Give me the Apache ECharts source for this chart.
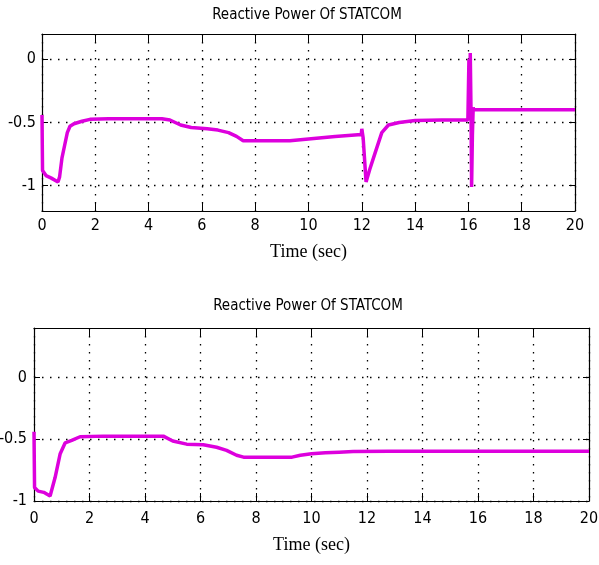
<!DOCTYPE html>
<html>
<head>
<meta charset="utf-8">
<script src="https://cdn.jsdelivr.net/npm/echarts@6/dist/echarts.min.js"></script>
<style>
  html,body{margin:0;padding:0;background:#fff;}
  #chart{width:599px;height:565px;}
</style>
</head>
<body>
<div id="chart"></div>
<script>
// top plot: STATCOM reactive power (with disturbances at 12 s and 16 s)
var timeTop=[0,0.02,0.15,0.35,0.6,0.66,0.75,0.85,0.95,1.05,1.2,1.5,1.8,2.5,4.5,4.8,5.2,5.6,6.2,6.6,7.0,7.3,7.55,8.5,9.3,10,11,11.98,12.0,12.05,12.16,12.3,12.5,12.75,13.0,13.4,14,15,15.98,16.02,16.05,16.07,16.1,16.12,16.15,16.18,16.2,17,20];
var powerTop=[-0.44,-0.88,-0.92,-0.94,-0.97,-0.93,-0.78,-0.68,-0.58,-0.53,-0.51,-0.49,-0.475,-0.47,-0.47,-0.48,-0.52,-0.54,-0.55,-0.56,-0.58,-0.61,-0.645,-0.645,-0.645,-0.63,-0.61,-0.595,-0.55,-0.62,-0.97,-0.87,-0.74,-0.58,-0.52,-0.50,-0.485,-0.48,-0.48,0.0,-0.3,0.05,-0.45,-1.01,-0.6,-0.38,-0.40,-0.40,-0.40];

// bottom plot
var timeBottom=[0,0.02,0.15,0.35,0.58,0.64,0.76,0.94,1.12,1.36,1.66,2.5,4.66,5.0,5.5,6.1,6.58,6.94,7.3,7.55,8.5,9.3,9.6,10,10.5,11,11.5,12.8,20];
var powerBottom=[-0.44,-0.89,-0.92,-0.93,-0.96,-0.95,-0.81,-0.62,-0.53,-0.51,-0.48,-0.475,-0.475,-0.515,-0.54,-0.545,-0.565,-0.59,-0.63,-0.645,-0.645,-0.645,-0.63,-0.618,-0.61,-0.605,-0.60,-0.597,-0.597];

var yTicks=[-1,-0.5,0];
var titleText='Reactive Power Of STATCOM';
var xName='Time (sec)';

var narrow='"Liberation Sans Narrow","DejaVu Sans Condensed",Arial,sans-serif';
var lineColor='#dd00dd';

function pairs(xs,ys){
    return xs.map(function(x,i){return [x,ys[i]];});
}

var dotted={show:true,lineStyle:{color:'#000',width:1.3,type:[1.5,6.5]}};
var axisLine={show:true,onZero:false,lineStyle:{color:'#000',width:1.2}};

function xAxes(gridIndex,labelMargin,nameGap){
    return [{
        gridIndex:gridIndex,type:'value',min:0,max:20,interval:2,position:'bottom',
        axisLine:axisLine,
        axisTick:{inside:true,length:8,lineStyle:{color:'#000'}},
        splitLine:dotted,
        axisLabel:{color:'#000',fontSize:16,fontFamily:narrow,margin:labelMargin},
        name:xName,nameLocation:'middle',nameGap:nameGap,
        nameTextStyle:{color:'#000',fontFamily:'"Liberation Serif","Times New Roman",serif',fontSize:18}
    },{
        gridIndex:gridIndex,type:'value',min:0,max:20,interval:2,position:'top',
        axisLine:axisLine,
        axisTick:{inside:true,length:8,lineStyle:{color:'#000'}},
        splitLine:{show:false},axisLabel:{show:false}
    }];
}

function yAxes(gridIndex,min,max,labelMargin){
    return [{
        gridIndex:gridIndex,type:'value',min:min,max:max,position:'left',
        axisLine:axisLine,
        axisTick:{inside:true,length:6,customValues:yTicks,lineStyle:{color:'#000'}},
        splitLine:dotted,
        axisLabel:{color:'#000',fontSize:16,fontFamily:narrow,margin:labelMargin,customValues:yTicks}
    },{
        gridIndex:gridIndex,type:'value',min:min,max:max,position:'right',
        axisLine:axisLine,
        axisTick:{inside:true,length:6,customValues:yTicks,lineStyle:{color:'#000'}},
        splitLine:{show:false},axisLabel:{show:false,customValues:yTicks}
    }];
}

var chart=echarts.init(document.getElementById('chart'),null,{renderer:'canvas'});

var option={
    animation:false,
    backgroundColor:'#fff',
    title:[
        {text:titleText,left:307,top:8,textAlign:'center',padding:0,
         textStyle:{color:'#000',fontWeight:'normal',fontSize:15,fontFamily:narrow}},
        {text:titleText,left:308,top:299,textAlign:'center',padding:0,
         textStyle:{color:'#000',fontWeight:'normal',fontSize:15,fontFamily:narrow}}
    ],
    grid:[
        {left:42,top:34,width:533,height:177,containLabel:false,outerBoundsMode:'none'},
        {left:34,top:328,width:555,height:173,containLabel:false,outerBoundsMode:'none'}
    ],
    xAxis:xAxes(0,7,32).concat(xAxes(1,10,35)),
    yAxis:yAxes(0,-1.2,0.2,6).concat(yAxes(1,-1,0.4,7)),
    series:[
        {type:'line',xAxisIndex:0,yAxisIndex:0,showSymbol:false,
         lineStyle:{color:lineColor,width:3.5},data:pairs(timeTop,powerTop)},
        {type:'line',xAxisIndex:2,yAxisIndex:2,showSymbol:false,
         lineStyle:{color:lineColor,width:3.5},data:pairs(timeBottom,powerBottom)}
    ]
};

chart.setOption(option);
</script>
</body>
</html>
